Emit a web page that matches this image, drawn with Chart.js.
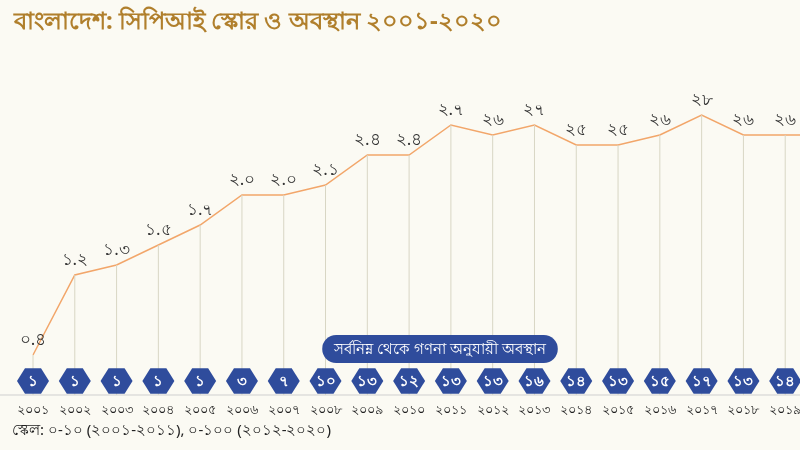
<!DOCTYPE html>
<html>
<head>
<meta charset="utf-8">
<script src="https://cdn.jsdelivr.net/npm/chart.js@4"></script>
<style>
  body { margin: 0; background: #fbfaf3; overflow: hidden; width: 800px; height: 450px; }
  #wrap { position: absolute; left: 0; top: 0; width: 860px; height: 450px; }
  #title { position: absolute; left: 14px; top: 2px; font: bold 24px "Noto Sans", sans-serif; color: #b07f2c; white-space: nowrap; }
  #note { position: absolute; left: 12px; top: 418px; font: 15px "Noto Sans", sans-serif; color: #222; white-space: nowrap; }
</style>
</head>
<body>
<div id="wrap"><canvas id="c" width="860" height="450"></canvas></div>
<div id="title">বাংলাদেশ: সিপিআই স্কোর ও অবস্থান ২০০১-২০২০</div>
<div id="note">স্কেল: ০-১০ (২০০১-২০১১), ০-১০০ (২০১২-২০২০)</div>
<script>
// years and values
const years = ['২০০১','২০০২','২০০৩','২০০৪','২০০৫','২০০৬','২০০৭','২০০৮','২০০৯','২০১০',
               '২০১১','২০১২','২০১৩','২০১৪','২০১৫','২০১৬','২০১৭','২০১৮','২০১৯','২০২০'];
const scores = [0.4, 1.2, 1.3, 1.5, 1.7, 2.0, 2.0, 2.1, 2.4, 2.4, 2.7, 26, 27, 25, 25, 26, 28, 26, 26, 26];
const scoreLabels = ['০.৪','১.২','১.৩','১.৫','১.৭','২.০','২.০','২.১','২.৪','২.৪','২.৭','২৬','২৭','২৫','২৫','২৬','২৮','২৬','২৬','২৬'];
const ranks = ['১','১','১','১','১','৩','৭','১০','১৩','১২','১৩','১৩','১৬','১৪','১৩','১৫','১৭','১৩','১৪','১২'];

// 0-100 scale years plotted on the 0-10 scale
const plotted = scores.map((v, i) => i >= 11 ? v / 10 : v);

const deco = {
  id: 'deco',
  afterDatasetsDraw(chart) {
    const ctx = chart.ctx;
    const meta = chart.getDatasetMeta(0);
    const base = 395;
    ctx.save();
    ctx.strokeStyle = '#cfcfcf';
    ctx.lineWidth = 1;
    ctx.beginPath(); ctx.moveTo(0, base); ctx.lineTo(860, base); ctx.stroke();
    meta.data.forEach((pt, i) => {
      ctx.strokeStyle = '#d8d6c4';
      ctx.beginPath(); ctx.moveTo(pt.x, pt.y); ctx.lineTo(pt.x, base); ctx.stroke();
      ctx.fillStyle = '#333';
      ctx.font = '17px "Noto Sans", sans-serif';
      ctx.textAlign = 'center';
      ctx.textBaseline = 'bottom';
      ctx.fillText(scoreLabels[i], pt.x, pt.y - 6);
      // rank hexagon
      const cy = 381, r = 16;
      ctx.fillStyle = '#2f4c9c';
      ctx.beginPath();
      for (let k = 0; k < 6; k++) {
        const a = Math.PI / 3 * k;
        const x = pt.x + r * Math.cos(a), y = cy + r * 0.92 * Math.sin(a);
        k ? ctx.lineTo(x, y) : ctx.moveTo(x, y);
      }
      ctx.closePath(); ctx.fill();
      ctx.fillStyle = '#fff';
      ctx.font = 'bold 15px "Noto Sans", sans-serif';
      ctx.textBaseline = 'middle';
      ctx.fillText(ranks[i], pt.x, cy + 1);
      ctx.fillStyle = '#222';
      ctx.font = '13px "Noto Sans", sans-serif';
      ctx.fillText(years[i], pt.x, 410);
    });
    const txt = 'সর্বনিম্ন থেকে গণনা অনুযায়ী অবস্থান';
    ctx.font = '15px "Noto Sans", sans-serif';
    const w = ctx.measureText(txt).width + 24;
    const cx = 440, cy = 349, h = 28;
    ctx.fillStyle = '#2f4c9c';
    ctx.beginPath();
    ctx.roundRect(cx - w / 2, cy - h / 2, w, h, 14);
    ctx.fill();
    ctx.fillStyle = '#fff';
    ctx.textAlign = 'center';
    ctx.textBaseline = 'middle';
    ctx.fillText(txt, cx, cy + 1);
    ctx.restore();
  }
};

new Chart(document.getElementById('c'), {
  type: 'line',
  data: {
    labels: years,
    datasets: [{
      data: plotted,
      borderColor: '#f2a66a',
      borderWidth: 1.5,
      pointRadius: 0,
      tension: 0
    }]
  },
  options: {
    responsive: false,
    animation: false,
    layout: { padding: { left: 33, right: 33, top: 45, bottom: 55 } },
    plugins: { legend: { display: false }, tooltip: { enabled: false } },
    scales: {
      x: { display: false, offset: false },
      y: { display: false, min: 0, max: 3.5 }
    }
  },
  plugins: [deco]
});
</script>
</body>
</html>
